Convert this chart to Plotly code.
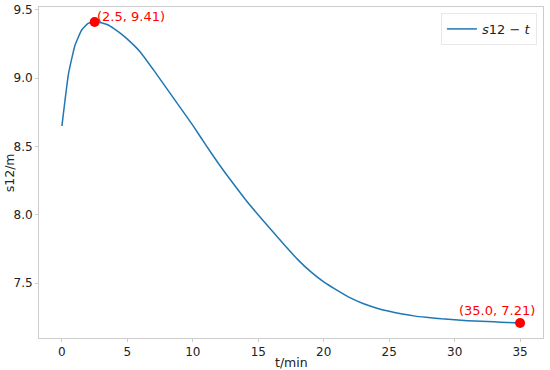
import plotly.graph_objects as go

# time (min) and distance s12 (m)
t = [0, 0.5, 1, 1.5, 2, 2.5, 3, 3.5, 4, 4.5, 5,
     6, 7, 8, 9, 10, 11, 12, 13, 14, 15,
     16, 17, 18, 19, 20, 21, 22, 23, 24, 25,
     26, 27, 28, 29, 30, 31, 32, 33, 34, 35]
s12 = [8.65, 9.03, 9.24, 9.35, 9.40, 9.41, 9.405, 9.39, 9.36, 9.325, 9.285,
       9.19, 9.06, 8.925, 8.79, 8.655, 8.51, 8.37, 8.24, 8.115, 8.00,
       7.89, 7.78, 7.675, 7.585, 7.51, 7.45, 7.395, 7.352, 7.32, 7.295,
       7.275, 7.26, 7.25, 7.24, 7.233, 7.227, 7.222, 7.218, 7.214, 7.21]

# marked points: maximum and last value
i_max = s12.index(max(s12))
mark_t = [t[i_max], t[-1]]
mark_s = [s12[i_max], s12[-1]]

font = "DejaVu Sans, Liberation Sans, sans-serif"
spine = "#cccccc"

fig = go.Figure()
fig.add_trace(go.Scatter(x=t, y=s12, mode="lines", name="<i>s</i>12 − <i>t</i>",
                         line=dict(color="#1f77b4", width=1.5, shape="spline", smoothing=0.4)))
fig.add_trace(go.Scatter(x=mark_t, y=mark_s, mode="markers", showlegend=False,
                         marker=dict(color="red", size=10)))

# labels next to the two marked points
fig.add_annotation(x=mark_t[0], y=mark_s[0], text=f"({mark_t[0]:.1f}, {mark_s[0]:.2f})",
                   showarrow=False, xanchor="left", yanchor="bottom", yshift=-4,
                   font=dict(color="red", size=13, family=font))
fig.add_annotation(x=mark_t[1], y=mark_s[1], text=f"({mark_t[1]:.1f}, {mark_s[1]:.2f})",
                   showarrow=False, xanchor="right", yanchor="bottom", xshift=17, yshift=3,
                   font=dict(color="red", size=13, family=font))

# axis titles as paper annotations so they sit where the reference has them
fig.add_annotation(x=0.5, y=-0.073, xref="paper", yref="paper",
                   text="t/min", showarrow=False, xanchor="center", yanchor="middle",
                   font=dict(size=12.5, family=font, color="#222222"))
fig.add_annotation(x=-0.058, y=0.5, xref="paper", yref="paper",
                   text="s12/m", showarrow=False, textangle=-90,
                   xanchor="center", yanchor="middle",
                   font=dict(size=12.5, family=font, color="#222222"))

fig.update_layout(
    width=550, height=370,
    margin=dict(l=39, r=7, t=7, b=32),
    paper_bgcolor="white", plot_bgcolor="white",
    font=dict(family=font, size=12, color="#222222"),
    legend=dict(x=0.988, y=0.982, xanchor="right", yanchor="top",
                bgcolor="white", bordercolor="#e8e8e8", borderwidth=1,
                font=dict(size=13)),
)
fig.update_xaxes(range=[-1.75, 36.75], tickvals=[0, 5, 10, 15, 20, 25, 30, 35],
                 showgrid=False, zeroline=False, showline=True, mirror=True, automargin=False,
                 linecolor=spine, linewidth=1, ticks="outside", ticklen=3, tickcolor=spine)
fig.update_yaxes(range=[7.10, 9.52], tickvals=[7.5, 8.0, 8.5, 9.0, 9.5],
                 ticktext=["7.5", "8.0", "8.5", "9.0", "9.5"],
                 showgrid=False, zeroline=False, showline=True, mirror=True, automargin=False,
                 linecolor=spine, linewidth=1, ticks="outside", ticklen=3, tickcolor=spine)

# page body has a default 8px margin; drop it so the figure fills the window
fig.write_html("out.html", config={"displayModeBar": False},
               post_script="document.body.style.margin='0';")
